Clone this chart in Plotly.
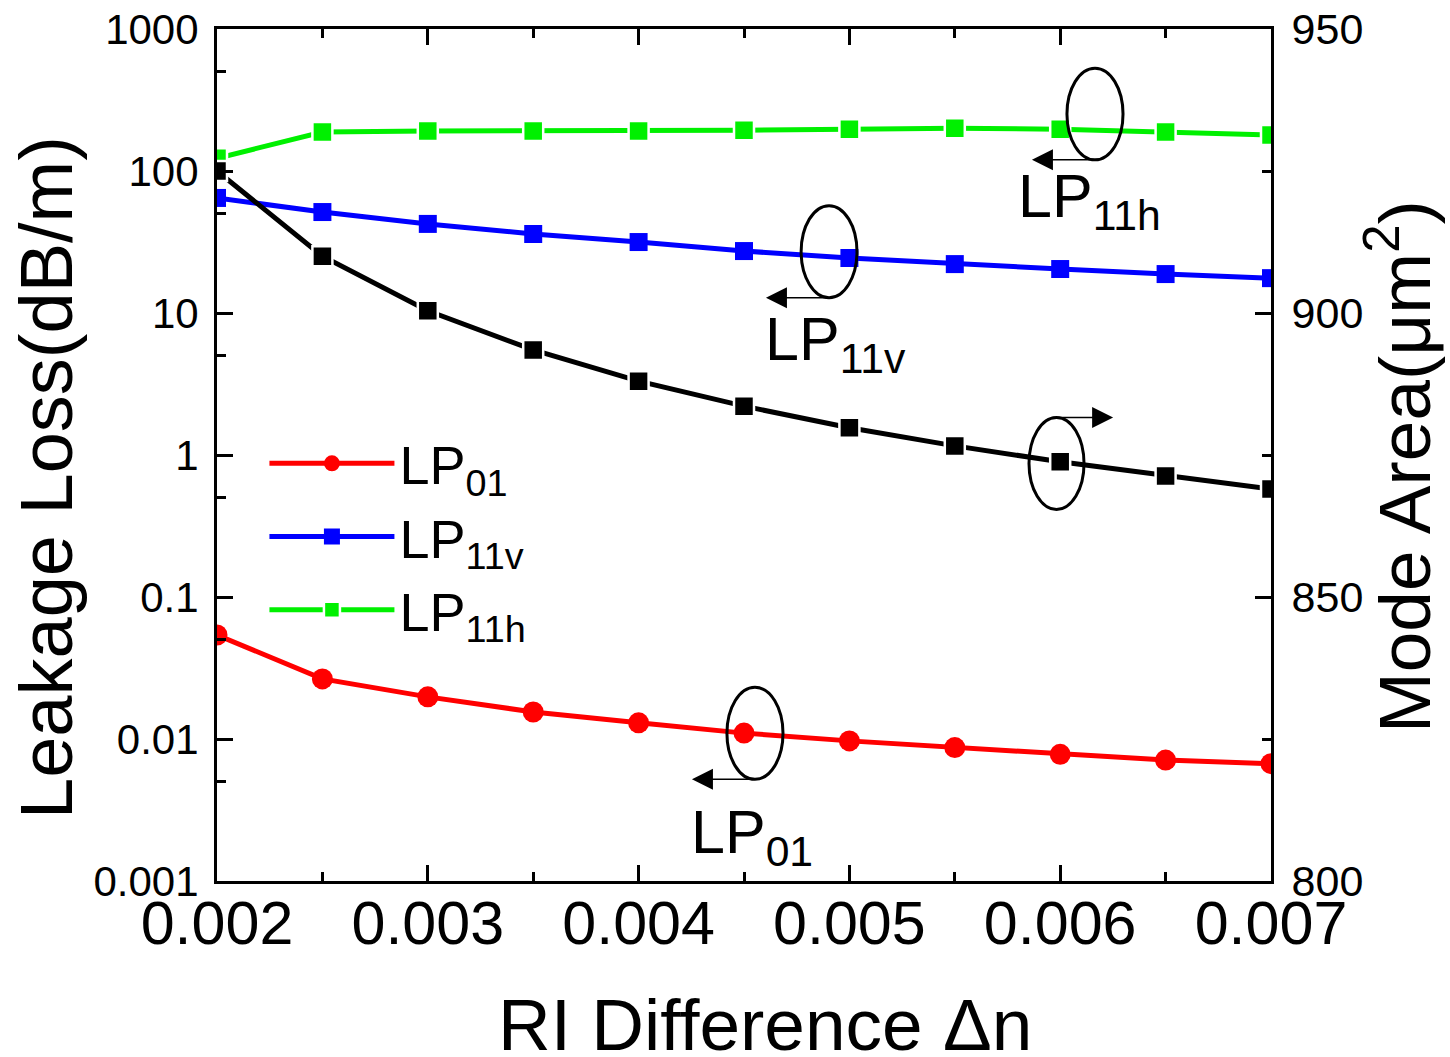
import plotly.graph_objects as go

# ---- data ----
dn = [0.002, 0.0025, 0.003, 0.0035, 0.004, 0.0045, 0.005, 0.0055, 0.006, 0.0065, 0.007]
loss_lp01 = [0.054, 0.0265, 0.0198, 0.0155, 0.0130, 0.0110, 0.0097, 0.0087, 0.0078, 0.0071, 0.0067]
loss_lp11v = [64.6, 51.4, 42.4, 36.0, 31.6, 27.3, 24.4, 22.1, 20.4, 18.8, 17.6]
loss_lp11h = [123, 188, 191, 191, 191, 194, 197, 200, 197, 188, 179]
mode_area = [925.0, 910.0, 900.4, 893.5, 888.0, 883.6, 879.8, 876.6, 873.8, 871.3, 869.0]

x_ticks = [0.002, 0.003, 0.004, 0.005, 0.006, 0.007]
x_ticktext = ["0.002", "0.003", "0.004", "0.005", "0.006", "0.007"]
x_minor = [0.0025, 0.0035, 0.0045, 0.0055, 0.0065]
y_ticks = [0.001, 0.01, 0.1, 1, 10, 100, 1000]
y_ticktext = ["0.001", "0.01", "0.1", "1", "10", "100", "1000"]
y_minor = [0.005, 0.05, 0.5, 5, 50, 500]
y2_ticks = [800, 850, 900, 950]
y2_minor = [825, 875, 925]

x_title = "RI Difference \u0394n"
y_title = "Leakage Loss(dB/m)"
y2_title = "Mode Area(\u03bcm<sup>2</sup>)"

FONT = "Liberation Sans, Arial, sans-serif"
GREEN = "#00f000"

fig = go.Figure()
fig.add_trace(go.Scatter(
    x=dn, y=loss_lp01, name="LP<sub>01</sub>", mode="lines+markers",
    line=dict(color="#ff0000", width=5),
    marker=dict(symbol="circle", size=21, color="#ff0000")))
fig.add_trace(go.Scatter(
    x=dn, y=loss_lp11v, name="LP<sub>11v</sub>", mode="lines+markers",
    line=dict(color="#0000ff", width=5),
    marker=dict(symbol="square", size=18, color="#0000ff")))
fig.add_trace(go.Scatter(
    x=dn, y=loss_lp11h, name="LP<sub>11h</sub>", mode="lines+markers",
    line=dict(color=GREEN, width=5),
    marker=dict(symbol="square", size=20, color=GREEN,
                line=dict(color="white", width=2.5))))
fig.add_trace(go.Scatter(
    x=dn, y=mode_area, name="Mode area", mode="lines+markers", yaxis="y2",
    showlegend=False,
    line=dict(color="#000000", width=5),
    marker=dict(symbol="square", size=20, color="#000000",
                line=dict(color="white", width=2.5))))

axis_common = dict(showgrid=False, zeroline=False, showline=True, linecolor="black",
                   linewidth=3, ticks="inside", tickcolor="black", tickwidth=3,
                   ticklen=16, automargin=False)

fig.update_layout(
    width=1450, height=1057,
    margin=dict(l=217, r=179, t=29, b=176),
    paper_bgcolor="white", plot_bgcolor="white",
    font=dict(family=FONT, color="black"),
    xaxis=dict(**axis_common, range=[0.002, 0.007], tickmode="array",
               tickvals=x_ticks, ticktext=x_ticktext, mirror="ticks",
               tickfont=dict(size=61, family=FONT), ticklabelstandoff=-13,
               minor=dict(tickmode="array", tickvals=x_minor, ticks="inside",
                          ticklen=9, tickwidth=3, tickcolor="black")),
    yaxis=dict(**axis_common, type="log", range=[-3, 3], tickmode="array",
               tickvals=y_ticks, ticktext=y_ticktext,
               tickfont=dict(size=42, family=FONT), ticklabelstandoff=7,
               minor=dict(tickmode="array", tickvals=y_minor, ticks="inside",
                          ticklen=9, tickwidth=3, tickcolor="black")),
    yaxis2=dict(**axis_common, overlaying="y", side="right", range=[800, 950],
                tickmode="array", tickvals=y2_ticks,
                tickfont=dict(size=43, family=FONT), ticklabelstandoff=9,
                minor=dict(tickmode="array", tickvals=y2_minor, ticks="inside",
                           ticklen=9, tickwidth=3, tickcolor="black")),
    legend=dict(x=0.045, y=0.539, xanchor="left", yanchor="top",
                bgcolor="rgba(0,0,0,0)", font=dict(size=54, family=FONT),
                itemwidth=125, tracegroupgap=0),
    showlegend=True,
)

# ---- axis titles placed as annotations (paper coordinates) ----
fig.add_annotation(text=x_title, xref="paper", yref="paper", x=0.520, y=-0.169,
                   xanchor="center", yanchor="middle", showarrow=False,
                   font=dict(size=73, family=FONT, color="black"))
fig.add_annotation(text=y_title, xref="paper", yref="paper", x=-0.1613, y=0.4742,
                   xanchor="center", yanchor="middle", showarrow=False, textangle=-90,
                   font=dict(size=74, family=FONT, color="black"))
fig.add_annotation(text=y2_title, xref="paper", yref="paper", x=1.1215, y=0.4859,
                   xanchor="center", yanchor="middle", showarrow=False, textangle=-90,
                   font=dict(size=73, family=FONT, color="black"))

# ---- ellipse / arrow / label callouts (x in data, y on right linear axis) ----
ellipses = [  # x0, x1, y0, y1
    (0.006032, 0.006298, 926.96, 943.1),
    (0.004771, 0.005036, 902.7, 918.9),
    (0.005852, 0.006113, 865.4, 881.6),
    (0.004419, 0.004685, 817.9, 834.1),
]
for x0, x1, y0, y1 in ellipses:
    fig.add_shape(type="circle", xref="x", yref="y2", x0=x0, x1=x1, y0=y0, y1=y1,
                  line=dict(color="black", width=3))

arrows = [  # tail x, tip x, y
    (0.006175, 0.005866, 926.96),
    (0.004903, 0.004604, 902.7),
    (0.005952, 0.006251, 881.6),
    (0.004562, 0.004253, 817.9),
]
for ax0, x_tip, yv in arrows:
    fig.add_annotation(x=x_tip, y=yv, ax=ax0, ay=yv, xref="x", yref="y2",
                       axref="x", ayref="y2", text="", showarrow=True,
                       arrowhead=2, arrowsize=2.8, arrowwidth=1.5, arrowcolor="black")

labels = [  # x left, y center, text
    (0.00579, 919.8, "LP<sub>11h</sub>"),
    (0.00459, 894.6, "LP<sub>11v</sub>"),
    (0.00424, 807.8, "LP<sub>01</sub>"),
]
for xl, yc, t in labels:
    fig.add_annotation(x=xl, y=yc, xref="x", yref="y2", text=t, showarrow=False,
                       xanchor="left", yanchor="middle",
                       font=dict(size=61, family=FONT, color="black"))

fig.write_html("out.html")
